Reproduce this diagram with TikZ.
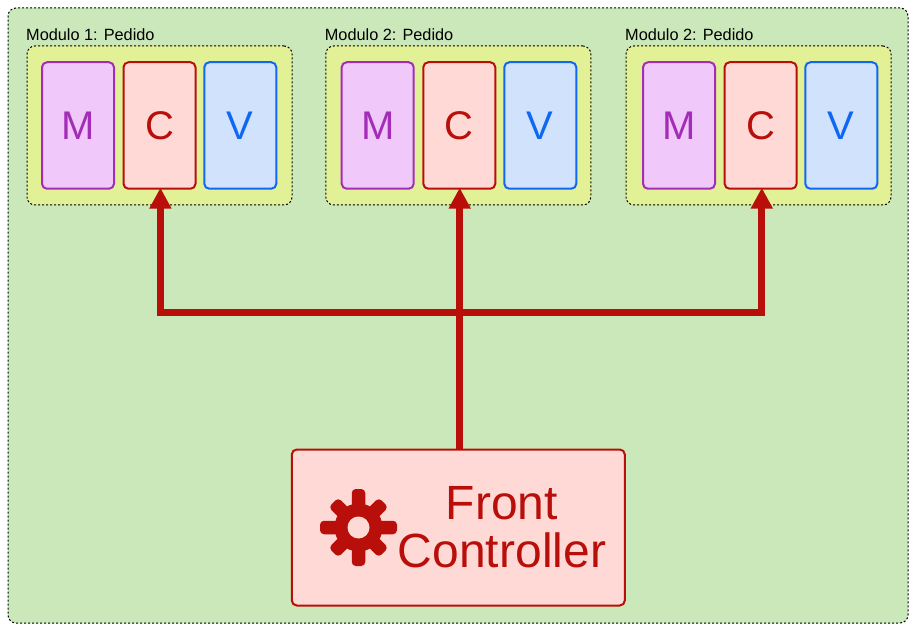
\documentclass[tikz,border=0pt]{standalone}
\usepackage{fontspec}
\setmainfont{Liberation Sans}
\usetikzlibrary{arrows.meta,positioning}
\definecolor{SceneGreen} {HTML}{CAE8B9}
\definecolor{ModuleLime} {HTML}{E2F096}
\definecolor{ModelPurple}{HTML}{A42DB8}
\definecolor{ModelFill}  {HTML}{F0C8FA}
\definecolor{CtrlRed}    {HTML}{B90F0A}
\definecolor{CtrlFill}   {HTML}{FFD9D6}
\definecolor{ViewBlue}   {HTML}{0F67F5}
\definecolor{ViewFill}   {HTML}{D1E3FC}
\tikzset{
  outerbox/.style={rectangle,rounded corners=8pt,draw=black,fill=SceneGreen,
                   line width=1pt,dash pattern=on 2pt off 2pt,
                   minimum width=900pt,minimum height=615pt},
  modbox/.style={rectangle,rounded corners=8pt,draw=black,fill=ModuleLime,
                 line width=1pt,dash pattern=on 2pt off 2pt,
                 minimum width=265pt,minimum height=159pt},
  modlabel/.style={anchor=west,inner sep=0pt,font=\fontsize{16.3}{18}\selectfont},
  mvc/.style={rectangle,rounded corners=5pt,draw=#1,line width=2pt,
              minimum width=72pt,minimum height=126.5pt,inner sep=0pt,
              text=#1,font=\fontsize{40}{44}\selectfont},
  tooth/.style={rectangle,rounded corners=4pt,fill=CtrlRed,inner sep=0pt,
                minimum width=#1,minimum height=13.5pt},
  busline/.style={draw=CtrlRed,line width=7pt},
  busarr/.style={busline,-{Triangle[width=21pt,length=21pt]}},
}
\begin{document}
\begin{tikzpicture}[x=1pt,y=-1pt]
  \useasboundingbox (0,0) rectangle (916,631);

  \node[outerbox] (scene) at (458,315.5) {};

  \node[modbox] (mod1) at (159.5,125.5) {};
  \node[modbox] (mod2) at (458.3,125.5) {};
  \node[modbox] (mod3) at (758.5,125.5) {};
  \node[modlabel] (lab1) at (26,34.5) {Modulo 1: Pedido};
  \node[modlabel] (lab2) at (324.7,34.5) {Modulo 2: Pedido};
  \node[modlabel] (lab3) at (625,34.5) {Modulo 2: Pedido};

  \node[mvc=ModelPurple,fill=ModelFill] (m1) at (78,125.5) {M};
  \node[mvc=CtrlRed,fill=CtrlFill] (c1) at (159.5,125.5) {C};
  \node[mvc=ViewBlue,fill=ViewFill] (v1) at (240.3,125.5) {V};

  \node[mvc=ModelPurple,fill=ModelFill] (m2) at (377.7,125.5) {M};
  \node[mvc=CtrlRed,fill=CtrlFill] (c2) at (459.3,125.5) {C};
  \node[mvc=ViewBlue,fill=ViewFill] (v2) at (540.3,125.5) {V};

  \node[mvc=ModelPurple,fill=ModelFill] (m3) at (679,125.5) {M};
  \node[mvc=CtrlRed,fill=CtrlFill] (c3) at (760.6,125.5) {C};
  \node[mvc=ViewBlue,fill=ViewFill] (v3) at (841.3,125.5) {V};

  \node[rectangle,rounded corners=5pt,draw=CtrlRed,line width=2pt,fill=CtrlFill,
        minimum width=333pt,minimum height=156pt] (front) at (458.3,527.5) {};
  \node[align=center,inner sep=0pt,text=CtrlRed,
        font=\fontsize{48}{48}\selectfont] (frontlab) at (502,527.5) {Front\\Controller};

  % gear
  \coordinate (gear) at (358.5,527.5);
  \node[tooth=77pt,rotate=0] (t1) at (gear) {};
  \node[tooth=77pt,rotate=90] (t2) at (gear) {};
  \node[tooth=71pt,rotate=45] (t3) at (gear) {};
  \node[tooth=71pt,rotate=135] (t4) at (gear) {};
  \node[circle,fill=CtrlRed,minimum size=48pt,inner sep=0pt] (hub) at (gear) {};
  \node[circle,fill=CtrlFill,minimum size=22pt,inner sep=0pt] (hole) at (gear) {};

  % connectors
  \coordinate (busmid) at (459.7,312.5);
  \draw[busline] (front.north -| busmid) -- (busmid);
  \draw[busarr] (busmid) -| ([xshift=0.9pt,yshift=2pt]c1.south);
  \draw[busarr] (busmid) -- ([xshift=0.4pt,yshift=2pt]c2.south);
  \draw[busarr] (busmid) -| ([xshift=1.2pt,yshift=2pt]c3.south);

\end{tikzpicture}
\end{document}
